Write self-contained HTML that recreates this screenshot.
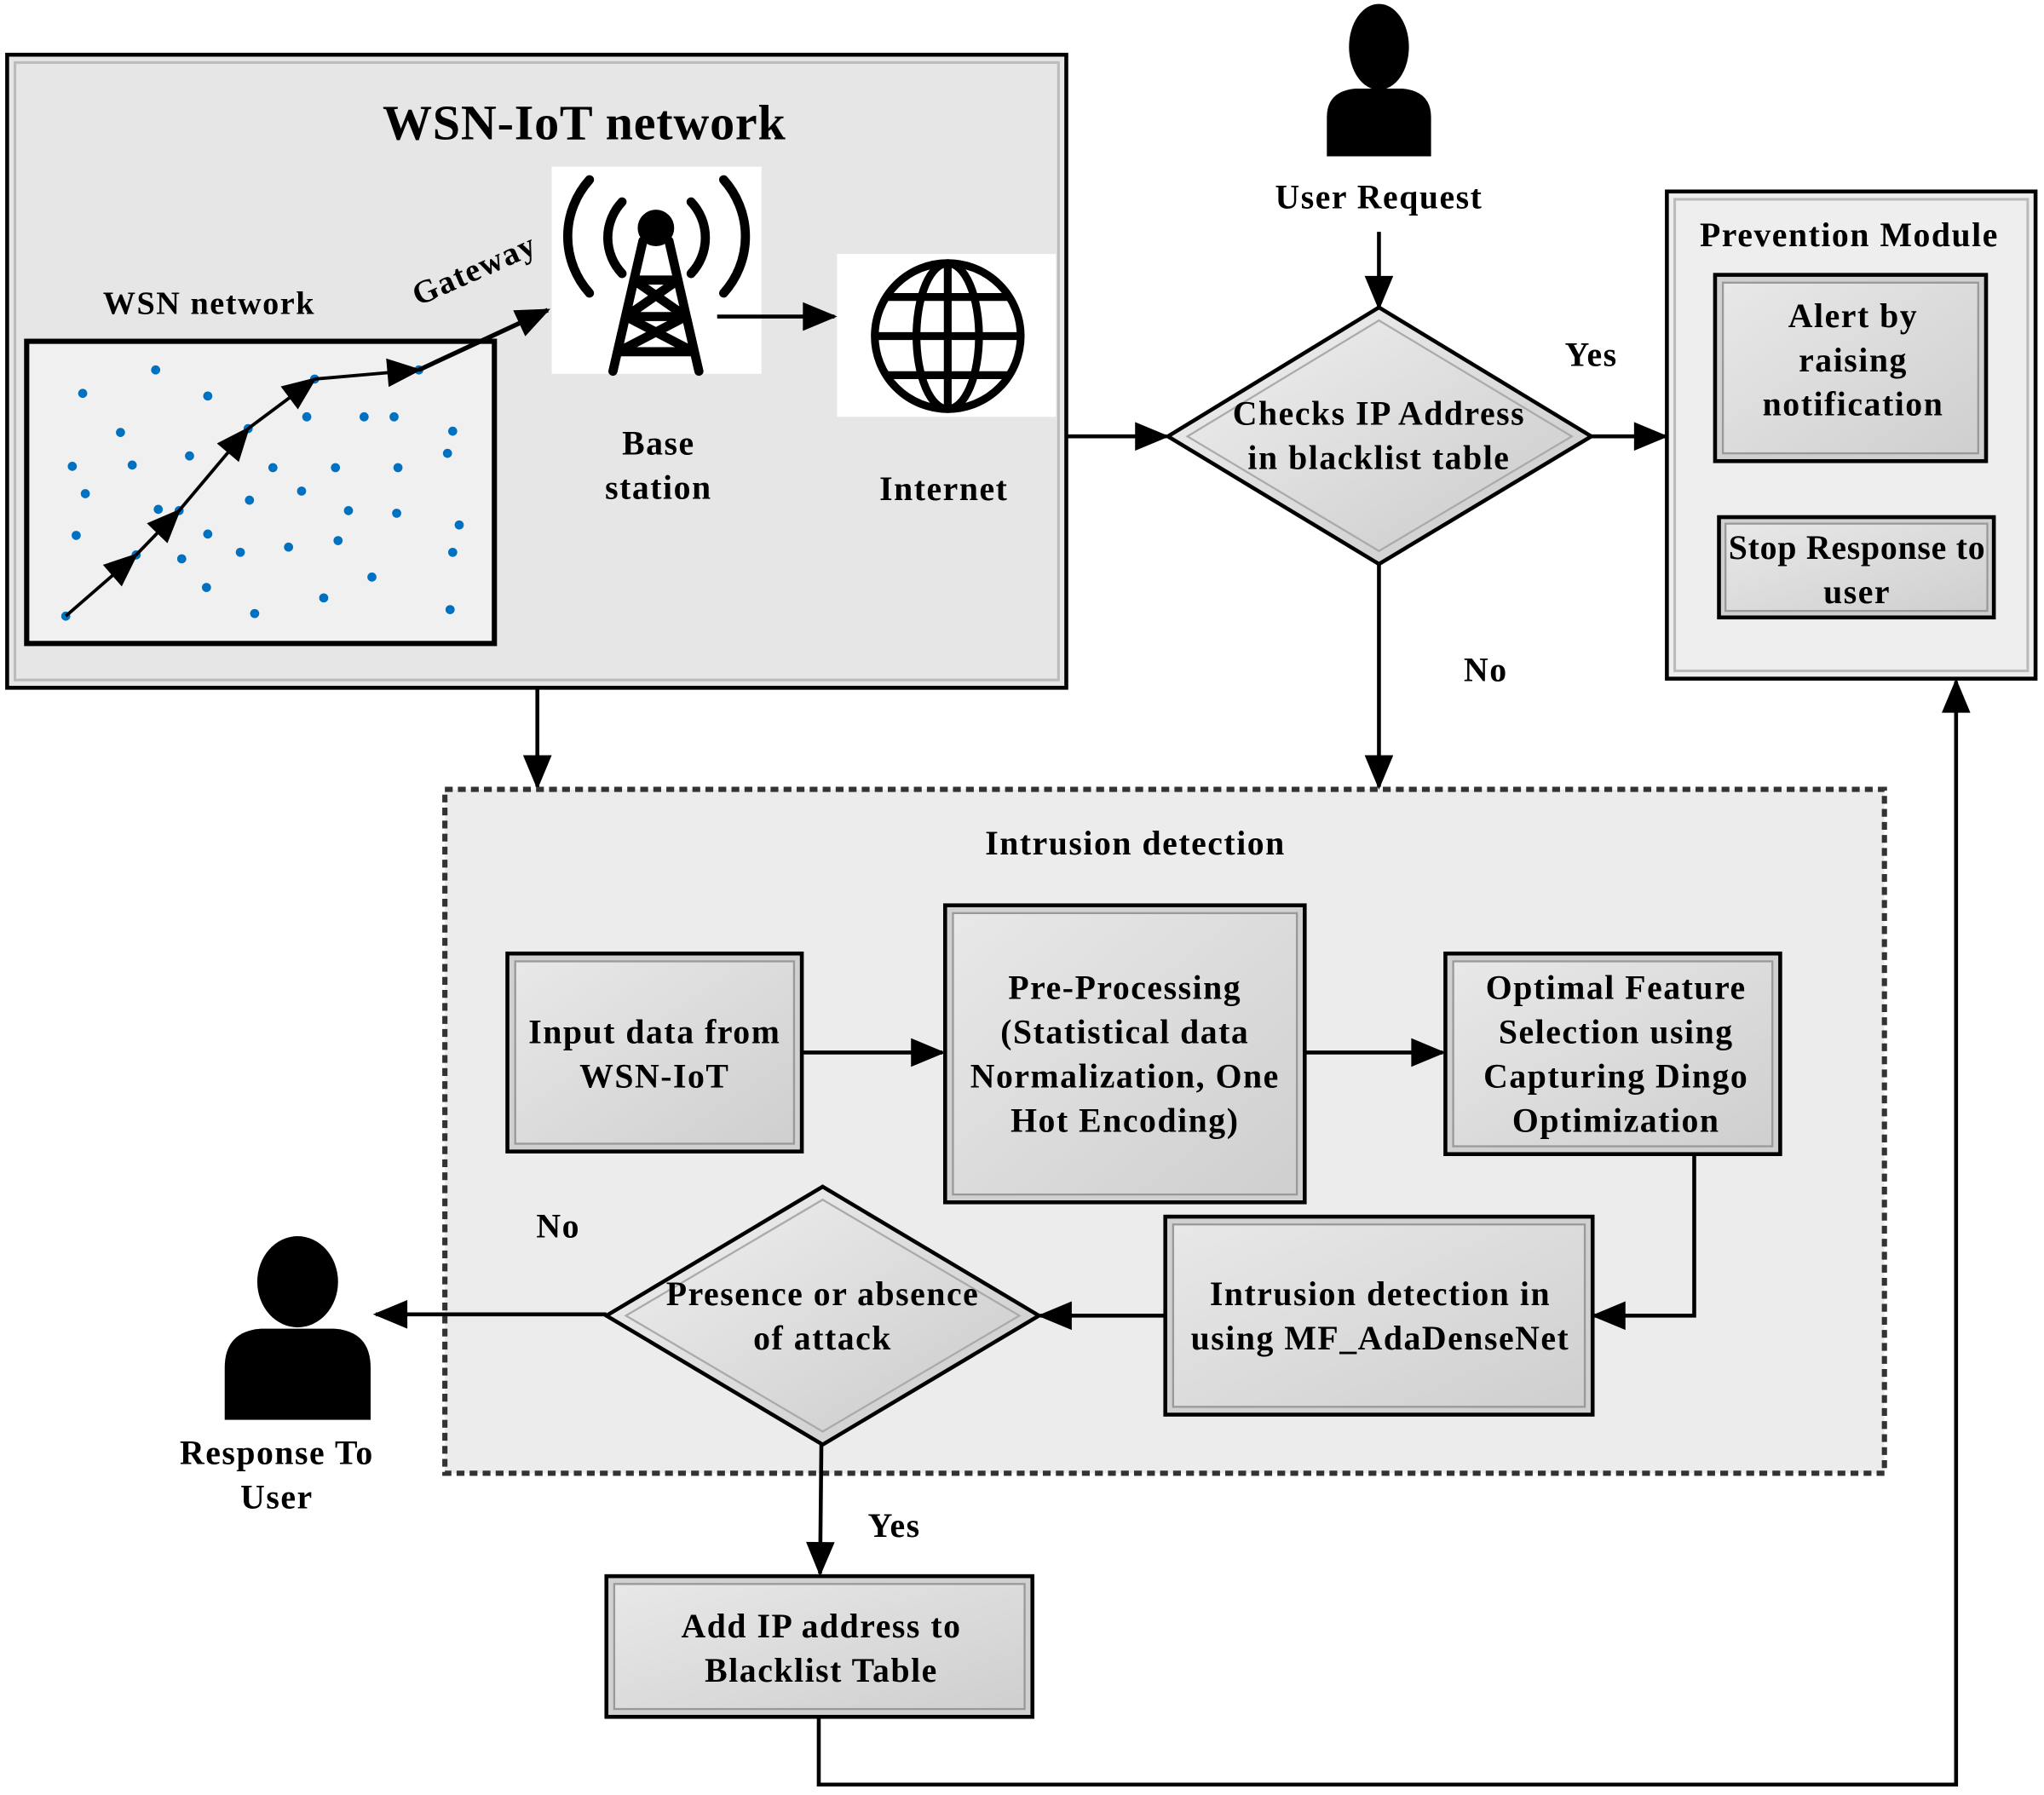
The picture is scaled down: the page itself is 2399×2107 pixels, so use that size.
<!DOCTYPE html>
<html><head><meta charset="utf-8"><style>
html,body{margin:0;padding:0;background:#fff}
svg{display:block}
text{font-family:"Liberation Serif",serif;font-weight:bold;fill:#000;text-anchor:middle;letter-spacing:1px}
</style></head><body>
<svg width="2399" height="2107" viewBox="0 0 1568 1378" xmlns="http://www.w3.org/2000/svg">
<defs>
<marker id="ar" viewBox="0 0 12 10" refX="11" refY="5" markerWidth="30" markerHeight="22" markerUnits="userSpaceOnUse" orient="auto"><path d="M0,0 L12,5 L0,10 z" fill="#000"/></marker>
<linearGradient id="g" x1="0" y1="0" x2="1" y2="1"><stop offset="0" stop-color="#f2f2f2"/><stop offset="1" stop-color="#c8c8c8"/></linearGradient>
<linearGradient id="b" x1="0" y1="0" x2="1" y2="1"><stop offset="0" stop-color="#e8e8e8"/><stop offset="1" stop-color="#cfcfcf"/></linearGradient>
</defs>

<rect x="5" y="42" width="813" height="486" fill="#e6e6e6" stroke="#000" stroke-width="3"/>
<rect x="11" y="48" width="801" height="474" fill="none" stroke="#bbb" stroke-width="2"/>
<text x="448" y="107" font-size="38" style="letter-spacing:0.5px">WSN-IoT network</text>
<text x="160" y="241" font-size="25">WSN network</text>
<rect x="20" y="262" width="359" height="232" fill="#f0f0f0" stroke="#000" stroke-width="4"/>
<g fill="#0070c0">
<circle cx="63" cy="302" r="3.5"/><circle cx="119" cy="284" r="3.5"/><circle cx="159" cy="304" r="3.5"/><circle cx="92" cy="332" r="3.5"/><circle cx="235" cy="320" r="3.5"/><circle cx="279" cy="320" r="3.5"/><circle cx="302" cy="320" r="3.5"/><circle cx="347" cy="331" r="3.5"/><circle cx="55" cy="358" r="3.5"/><circle cx="101" cy="357" r="3.5"/><circle cx="145" cy="350" r="3.5"/><circle cx="209" cy="359" r="3.5"/><circle cx="257" cy="359" r="3.5"/><circle cx="305" cy="359" r="3.5"/><circle cx="343" cy="348" r="3.5"/><circle cx="65" cy="379" r="3.5"/><circle cx="121" cy="391" r="3.5"/><circle cx="191" cy="384" r="3.5"/><circle cx="231" cy="377" r="3.5"/><circle cx="267" cy="392" r="3.5"/><circle cx="304" cy="394" r="3.5"/><circle cx="352" cy="403" r="3.5"/><circle cx="58" cy="411" r="3.5"/><circle cx="159" cy="410" r="3.5"/><circle cx="139" cy="429" r="3.5"/><circle cx="184" cy="424" r="3.5"/><circle cx="221" cy="420" r="3.5"/><circle cx="259" cy="415" r="3.5"/><circle cx="347" cy="424" r="3.5"/><circle cx="158" cy="451" r="3.5"/><circle cx="285" cy="443" r="3.5"/><circle cx="195" cy="471" r="3.5"/><circle cx="248" cy="459" r="3.5"/><circle cx="345" cy="468" r="3.5"/><circle cx="50" cy="473" r="3.5"/><circle cx="104" cy="426" r="3.5"/><circle cx="137" cy="392" r="3.5"/><circle cx="190" cy="329" r="3.5"/><circle cx="241" cy="291" r="3.5"/><circle cx="321" cy="284" r="3.5"/>
</g>
<g stroke="#000" stroke-width="2.5" fill="none">
<line x1="50" y1="473" x2="104" y2="426" marker-end="url(#ar)"/>
<line x1="104" y1="426" x2="137" y2="392" marker-end="url(#ar)"/>
<line x1="137" y1="392" x2="190" y2="329" marker-end="url(#ar)"/>
<line x1="190" y1="329" x2="241" y2="291" marker-end="url(#ar)"/>
<line x1="241" y1="291" x2="321" y2="284" marker-end="url(#ar)"/>
<line x1="321" y1="284" x2="420" y2="238" stroke-width="3.5" marker-end="url(#ar)"/>
</g>
<text x="364" y="215" font-size="25" transform="rotate(-24 364 208)">Gateway</text>
<rect x="423" y="128" width="161" height="159" fill="#fff"/>
<g stroke="#000" stroke-width="7" fill="none" stroke-linecap="round">
<path d="M477,155 A40,40 0 0 0 477,210"/><path d="M530,155 A40,40 0 0 1 530,210"/>
<path d="M452,138 A65,65 0 0 0 452,225"/><path d="M555,138 A65,65 0 0 1 555,225"/>
<path d="M493,185 L470,285 M513,185 L536,285 M486,215 L520,215 M480,243 L526,243 M474,270 L532,270 M486,215 L526,243 M520,215 L480,243 M480,243 L532,270 M526,243 L474,270"/>
</g>
<circle cx="503" cy="175" r="14" fill="#000"/>
<line x1="550" y1="243" x2="640" y2="243" stroke="#000" stroke-width="3" marker-end="url(#ar)"/>
<rect x="642" y="195" width="168" height="125" fill="#fff"/>
<g stroke="#000" stroke-width="6" fill="none">
<circle cx="727" cy="258" r="56"/>
<ellipse cx="727" cy="258" rx="24" ry="56"/>
<line x1="727" y1="202" x2="727" y2="314"/>
<line x1="671" y1="258" x2="783" y2="258"/>
<path d="M681,228 L773,228 M681,288 L773,288"/>
</g>
<text x="505" y="349" font-size="26">Base</text>
<text x="505" y="383" font-size="26">station</text>
<text x="724" y="384" font-size="26">Internet</text>

<line x1="818" y1="335" x2="895" y2="335" stroke="#000" stroke-width="3" marker-end="url(#ar)"/>
<polygon points="1058,236 1221,335 1058,433 896,335" fill="url(#g)" stroke="#000" stroke-width="3"/>
<polygon points="1058,246 1206,335 1058,423 911,335" fill="none" stroke="#aaa" stroke-width="1.5"/>
<text x="1058" y="326" font-size="26">Checks IP Address</text>
<text x="1058" y="360" font-size="26">in blacklist table</text>
<ellipse cx="1058" cy="36" rx="23" ry="33" fill="#000"/>
<path d="M1018,120 L1018,90 Q1018,70 1040,68 L1076,68 Q1098,70 1098,90 L1098,120 z" fill="#000"/>
<text x="1058" y="160" font-size="26">User Request</text>
<line x1="1058" y1="178" x2="1058" y2="236" stroke="#000" stroke-width="3" marker-end="url(#ar)"/>
<text x="1221" y="281" font-size="26">Yes</text>
<line x1="1221" y1="335" x2="1278" y2="335" stroke="#000" stroke-width="3" marker-end="url(#ar)"/>
<rect x="1279" y="147" width="283" height="374" fill="#eeeeee" stroke="#000" stroke-width="3"/>
<rect x="1285" y="153" width="271" height="362" fill="none" stroke="#bbb" stroke-width="2"/>
<text x="1419" y="189" font-size="26">Prevention Module</text>
<rect x="1316" y="211" width="208" height="143" fill="#d0d0d0" stroke="#000" stroke-width="3"/>
<rect x="1322" y="217" width="196" height="131" fill="url(#b)" stroke="#999" stroke-width="1.5"/>
<text x="1422" y="251" font-size="26">Alert by</text>
<text x="1422" y="285" font-size="26">raising</text>
<text x="1422" y="319" font-size="26">notification</text>
<rect x="1319" y="397" width="211" height="77" fill="#d0d0d0" stroke="#000" stroke-width="3"/>
<rect x="1324" y="402" width="201" height="67" fill="url(#b)" stroke="#999" stroke-width="1.5"/>
<text x="1425" y="429" font-size="26" style="letter-spacing:0.5px">Stop Response to</text>
<text x="1425" y="463" font-size="26">user</text>

<line x1="1058" y1="433" x2="1058" y2="604" stroke="#000" stroke-width="3" marker-end="url(#ar)"/>
<text x="1140" y="523" font-size="26">No</text>
<line x1="412" y1="528" x2="412" y2="604" stroke="#000" stroke-width="3" marker-end="url(#ar)"/>
<rect x="341" y="606" width="1105" height="525" fill="#ececec" stroke="#333" stroke-width="4" stroke-dasharray="6,4"/>
<text x="871" y="656" font-size="26">Intrusion detection</text>

<rect x="389" y="732" width="226" height="152" fill="#d0d0d0" stroke="#000" stroke-width="3"/>
<rect x="395" y="738" width="214" height="140" fill="url(#b)" stroke="#999" stroke-width="1.5"/>
<text x="502" y="801" font-size="26">Input data from</text>
<text x="502" y="835" font-size="26">WSN-IoT</text>
<line x1="615" y1="808" x2="723" y2="808" stroke="#000" stroke-width="3" marker-end="url(#ar)"/>

<rect x="725" y="695" width="276" height="228" fill="#d0d0d0" stroke="#000" stroke-width="3"/>
<rect x="731" y="701" width="264" height="216" fill="url(#b)" stroke="#999" stroke-width="1.5"/>
<text x="863" y="767" font-size="26">Pre-Processing</text>
<text x="863" y="801" font-size="26">(Statistical data</text>
<text x="863" y="835" font-size="26">Normalization, One</text>
<text x="863" y="869" font-size="26">Hot Encoding)</text>
<line x1="1001" y1="808" x2="1107" y2="808" stroke="#000" stroke-width="3" marker-end="url(#ar)"/>

<rect x="1109" y="732" width="257" height="154" fill="#d0d0d0" stroke="#000" stroke-width="3"/>
<rect x="1115" y="738" width="245" height="142" fill="url(#b)" stroke="#999" stroke-width="1.5"/>
<text x="1240" y="767" font-size="26">Optimal Feature</text>
<text x="1240" y="801" font-size="26">Selection using</text>
<text x="1240" y="835" font-size="26">Capturing Dingo</text>
<text x="1240" y="869" font-size="26">Optimization</text>
<polyline points="1300,886 1300,1010 1223,1010" fill="none" stroke="#000" stroke-width="3" marker-end="url(#ar)"/>

<rect x="894" y="934" width="328" height="152" fill="#d0d0d0" stroke="#000" stroke-width="3"/>
<rect x="900" y="940" width="316" height="140" fill="url(#b)" stroke="#999" stroke-width="1.5"/>
<text x="1059" y="1002" font-size="26">Intrusion detection in</text>
<text x="1059" y="1036" font-size="26">using MF_AdaDenseNet</text>
<line x1="894" y1="1010" x2="798" y2="1010" stroke="#000" stroke-width="3" marker-end="url(#ar)"/>

<polygon points="631,911 797,1010 631,1109 465,1010" fill="url(#g)" stroke="#000" stroke-width="3"/>
<polygon points="631,921 782,1010 631,1099 480,1010" fill="none" stroke="#aaa" stroke-width="1.5"/>
<text x="631" y="1002" font-size="26">Presence or absence</text>
<text x="631" y="1036" font-size="26">of attack</text>
<text x="428" y="950" font-size="26">No</text>
<line x1="465" y1="1009" x2="288" y2="1009" stroke="#000" stroke-width="3" marker-end="url(#ar)"/>
<ellipse cx="228" cy="984" rx="31" ry="35" fill="#000"/>
<path d="M172,1090 L172,1050 Q172,1022 200,1020 L256,1020 Q284,1022 284,1050 L284,1090 z" fill="#000"/>
<text x="212" y="1124" font-size="26">Response To</text>
<text x="212" y="1158" font-size="26">User</text>
<line x1="630" y1="1109" x2="629" y2="1208" stroke="#000" stroke-width="3" marker-end="url(#ar)"/>
<text x="686" y="1180" font-size="26">Yes</text>

<rect x="465" y="1210" width="327" height="108" fill="#d0d0d0" stroke="#000" stroke-width="3"/>
<rect x="471" y="1216" width="315" height="96" fill="url(#b)" stroke="#999" stroke-width="1.5"/>
<text x="630" y="1257" font-size="26">Add IP address to</text>
<text x="630" y="1291" font-size="26">Blacklist Table</text>
<polyline points="628,1318 628,1370 1501,1370 1501,523" fill="none" stroke="#000" stroke-width="3" marker-end="url(#ar)"/>
</svg>
</body></html>
